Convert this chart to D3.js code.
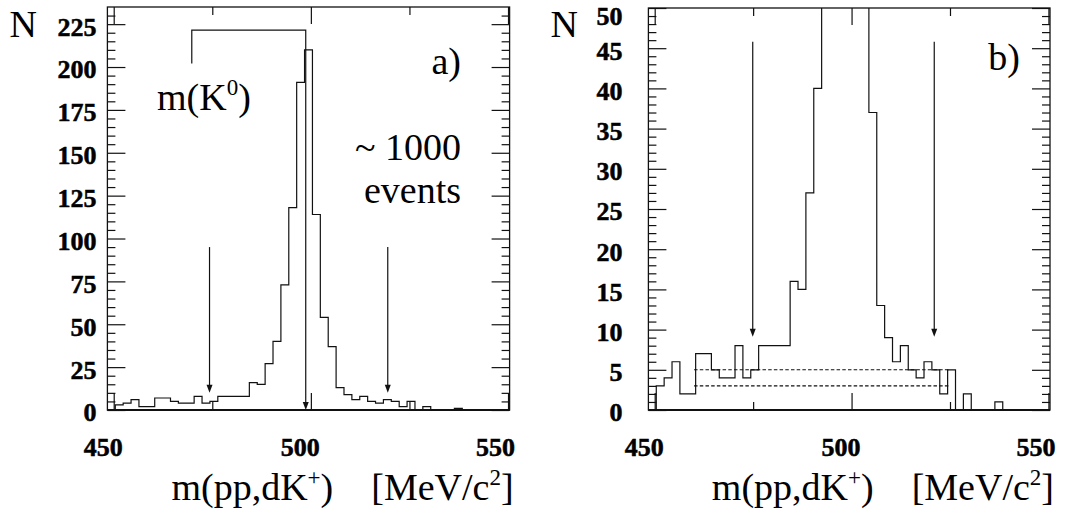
<!DOCTYPE html>
<html>
<head>
<meta charset="utf-8">
<script src="https://cdn.jsdelivr.net/npm/d3@7"></script>
<style>
body { margin: 0; background: #fff; }
svg { display: block; }
text { white-space: pre; }
</style>
</head>
<body>
<svg id="chart" width="1068" height="511"></svg>
<script>
// invariant mass bins (centres, MeV/c^2), 2 MeV wide
let massBins = [449.4, 451.4, 453.4, 455.4, 457.4, 459.4, 461.4, 463.4, 465.4, 467.4,
                469.4, 471.4, 473.4, 475.4, 477.4, 479.4, 481.4, 483.4, 485.4, 487.4,
                489.4, 491.4, 493.4, 495.4, 497.4, 499.4, 501.4, 503.4, 505.4, 507.4,
                509.4, 511.4, 513.4, 515.4, 517.4, 519.4, 521.4, 523.4, 525.4, 527.4,
                529.4, 531.4, 533.4, 535.4, 537.4, 539.4, 541.4, 543.4, 545.4, 547.4, 549.4];
let counts = [0, 3, 4, 6, 2, 2, 7, 7, 5, 4,
              4, 8, 4, 5, 8, 8, 8, 8, 16, 15,
              27, 40, 73, 118, 191, 210, 114, 54, 37, 13,
              9, 6, 8, 5, 4, 6, 5, 2, 5, 0,
              2, 0, 0, 0, 1, 0, 0, 0, 0, 0, 0];
let binWidth = 2;

let xDomain = [448.4, 550.4];
let xTicks = [450, 500, 550];
let xMidTicks = [475, 525];
let yTicksA = [0, 25, 50, 75, 100, 125, 150, 175, 200, 225];
let yTicksB = [0, 5, 10, 15, 20, 25, 30, 35, 40, 45, 50];

// annotations (data units)
let cutsA = [474.3, 519.5];      // arrows in a)
let cutsB = [474.9, 521.0];      // arrows in b)
let massK0 = 498.7;
let bgLevels = [5, 3];           // dashed background estimate in b)
let bgRange = [460, 525];

let font = "'Liberation Serif','Times New Roman',serif";
let svg = d3.select('#chart');

let panels = [
    { name: 'a', left: 107.4, right: 509.6, top: 7, bottom: 410, yMax: 235,
      yTicks: yTicksA, minorStep: 5, labelPad: 11, cuts: cutsA,
      arrowFrom: 95, arrowTo: 10 },
    { name: 'b', left: 648.4, right: 1050, top: 8, bottom: 410, yMax: 50,
      yTicks: yTicksB, minorStep: 1, labelPad: 26, cuts: cutsB,
      arrowFrom: 45.8, arrowTo: 9.1 }
];

let drawArrow = (g, xp, y0, y1) => {
    g.append('line')
        .attr('x1', xp).attr('x2', xp)
        .attr('y1', y0).attr('y2', y1 - 4)
        .attr('stroke', '#111').attr('stroke-width', 1.2);
    g.append('path')
        .attr('d', `M${xp},${y1} L${xp - 3},${y1 - 8} L${xp + 3},${y1 - 8} Z`)
        .attr('fill', '#111');
};

let styleLabels = (sel) => {
    sel.selectAll('text')
        .attr('font-family', font)
        .attr('font-weight', 'bold')
        .attr('font-size', 26)
        .attr('fill', '#000')
        .attr('stroke', '#000')
        .attr('stroke-width', 0.5);
};

let bigText = (g, str, xp, yp, anchor) => g.append('text')
    .attr('x', xp).attr('y', yp)
    .attr('text-anchor', anchor || 'start')
    .attr('font-family', font).attr('font-size', 38)
    .text(str);

panels.forEach(p => {
    let x = d3.scaleLinear().domain(xDomain).range([p.left, p.right]);
    let y = d3.scaleLinear().domain([0, p.yMax]).range([p.bottom, p.top]);
    let g = svg.append('g');

    let minor = d3.range(0, p.yMax, p.minorStep).filter(v => p.yTicks.indexOf(v) < 0);

    // histogram, clipped to the frame
    let clipId = 'clip-' + p.name;
    svg.append('clipPath').attr('id', clipId).append('rect')
        .attr('x', p.left).attr('y', p.top)
        .attr('width', p.right - p.left).attr('height', p.bottom - p.top);

    let pts = [[massBins[0] - binWidth / 2, 0]];
    massBins.forEach((m, i) => pts.push([m - binWidth / 2, counts[i]]));
    pts.push([massBins[massBins.length - 1] + binWidth / 2, 0]);

    let line = d3.line()
        .x(d => x(d[0]))
        .y(d => y(d[1]))
        .curve(d3.curveStepAfter);

    g.append('path')
        .attr('clip-path', `url(#${clipId})`)
        .attr('d', line(pts))
        .attr('fill', 'none')
        .attr('stroke', '#111')
        .attr('stroke-width', 1.2);

    // y axes, ticks inward on both sides
    let left = g.append('g').attr('transform', `translate(${p.left},0)`)
        .call(d3.axisLeft(y).tickValues(p.yTicks).tickSizeInner(-18).tickSizeOuter(0).tickPadding(p.labelPad));
    left.select('.domain').remove();
    left.selectAll('text').attr('dy', d => d == p.yMax - (p.yMax % p.yTicks[1]) && p.name == 'b' ? '0.62em' : '0.42em');
    styleLabels(left);
    g.append('g').attr('transform', `translate(${p.left},0)`)
        .call(d3.axisLeft(y).tickValues(minor).tickSize(-8).tickFormat(''))
        .select('.domain').remove();
    g.append('g').attr('transform', `translate(${p.right},0)`)
        .call(d3.axisRight(y).tickValues(p.yTicks).tickSize(-18).tickFormat(''))
        .select('.domain').remove();
    g.append('g').attr('transform', `translate(${p.right},0)`)
        .call(d3.axisRight(y).tickValues(minor).tickSize(-8).tickFormat(''))
        .select('.domain').remove();

    // x axes
    let bottom = g.append('g').attr('transform', `translate(0,${p.bottom})`)
        .call(d3.axisBottom(x).tickValues(xTicks).tickSizeInner(-17).tickSizeOuter(0).tickPadding(28));
    bottom.select('.domain').remove();
    bottom.selectAll('text').attr('dx', d => d == 550 ? -13 : -11);
    styleLabels(bottom);
    g.append('g').attr('transform', `translate(0,${p.bottom})`)
        .call(d3.axisBottom(x).tickValues(xMidTicks).tickSize(-8).tickFormat(''))
        .select('.domain').remove();
    g.append('g').attr('transform', `translate(0,${p.top})`)
        .call(d3.axisTop(x).tickValues(xTicks).tickSize(-17).tickFormat(''))
        .select('.domain').remove();
    g.append('g').attr('transform', `translate(0,${p.top})`)
        .call(d3.axisTop(x).tickValues(xMidTicks).tickSize(-8).tickFormat(''))
        .select('.domain').remove();

    g.selectAll('.tick line').attr('stroke', '#111').attr('stroke-width', 1.2);

    // frame
    g.append('rect')
        .attr('x', p.left).attr('y', p.top)
        .attr('width', p.right - p.left).attr('height', p.bottom - p.top)
        .attr('fill', 'none').attr('stroke', '#111').attr('stroke-width', 1.3);
    g.append('line')
        .attr('x1', p.left).attr('x2', p.right)
        .attr('y1', p.bottom).attr('y2', p.bottom)
        .attr('stroke', '#111').attr('stroke-width', 2.2);

    // cut arrows
    p.cuts.forEach(c => drawArrow(g, x(c), y(p.arrowFrom), y(p.arrowTo)));

    // axis titles
    bigText(g, 'N', p.left - 98, 37);

    let t = bigText(g, '', p.right + 4, 500, 'end');
    t.append('tspan').text('m(pp,dK');
    t.append('tspan').attr('font-size', 23).attr('dy', -15).text('+');
    t.append('tspan').attr('dy', 15).text(')    [MeV/c');
    t.append('tspan').attr('font-size', 23).attr('dy', -15).text('2');
    t.append('tspan').attr('dy', 15).text(']');

    if (p.name == 'a') {
        // K0 mass marker
        let xl = x(469.8), xr = x(massK0);
        g.append('path')
            .attr('d', `M${xl},${y(202)} V${y(221.5)} H${xr} V${p.bottom - 4}`)
            .attr('fill', 'none').attr('stroke', '#111').attr('stroke-width', 1.2);
        g.append('path')
            .attr('d', `M${xr},${p.bottom} L${xr - 3},${p.bottom - 8} L${xr + 3},${p.bottom - 8} Z`)
            .attr('fill', '#111');

        let k = bigText(g, '', 157, 110);
        k.append('tspan').text('m(K');
        k.append('tspan').attr('font-size', 23).attr('dy', -15).text('0');
        k.append('tspan').attr('dy', 15).text(')');

        bigText(g, 'a)', 461, 74, 'end');
        bigText(g, '~ 1000', 461, 160, 'end');
        bigText(g, 'events', 461, 203, 'end');
    } else {
        // background estimate
        bgLevels.forEach(v => {
            g.append('line')
                .attr('x1', x(bgRange[0])).attr('x2', x(bgRange[1]))
                .attr('y1', y(v)).attr('y2', y(v))
                .attr('stroke', '#111').attr('stroke-width', 1.1)
                .attr('stroke-dasharray', '3.5,2.2');
        });
        bigText(g, 'b)', 1020, 70, 'end');
    }
});
</script>
</body>
</html>
